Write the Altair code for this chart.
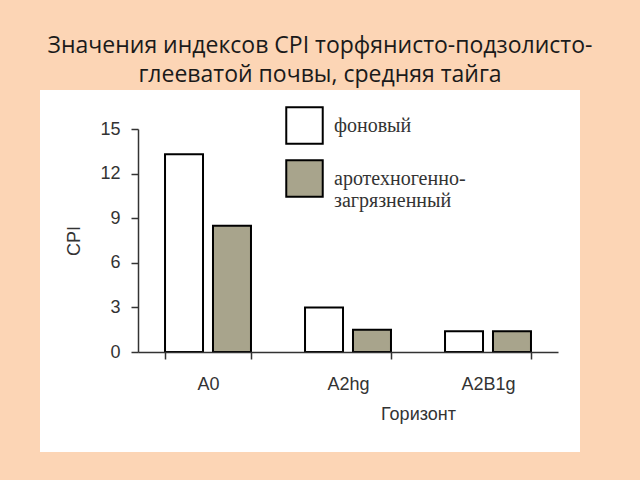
import altair as alt
import pandas as pd

horizons = ["A0", "A2hg", "A2B1g"]
series = ["фоновый", "аротехногенно-загрязненный"]
background_vals = [13.3, 3.0, 1.4]
polluted_vals = [8.5, 1.5, 1.4]
y_ticks = [0, 3, 6, 9, 12, 15]

rows = []
for h, a, b in zip(horizons, background_vals, polluted_vals):
    rows.append({"Горизонт": h, "series": series[0], "CPI": a})
    rows.append({"Горизонт": h, "series": series[1], "CPI": b})
df = pd.DataFrame(rows)

panel = alt.Chart(pd.DataFrame({"a": [0]})).mark_rect(color="white").encode(
    x=alt.value(-98), x2=alt.value(442), y=alt.value(-39), y2=alt.value(323)
)

bars = alt.Chart(df).mark_bar(stroke="black", strokeWidth=2).encode(
    x=alt.X("Горизонт:N", sort=horizons,
            scale=alt.Scale(paddingInner=0.386, paddingOuter=0.193),
            axis=alt.Axis(title="Горизонт", labelAngle=0, tickBand="extent",
                          tickSize=7, labelPadding=16, titlePadding=12,
                          titleX=280, titleAnchor="middle", zindex=2)),
    xOffset=alt.XOffset("series:N", sort=series,
                        scale=alt.Scale(paddingInner=0.208, paddingOuter=0)),
    y=alt.Y("CPI:Q", scale=alt.Scale(domain=[0, 15], nice=False),
            axis=alt.Axis(title="CPI", values=y_ticks, grid=False, tickSize=7,
                          labelPadding=11, titlePadding=16, zindex=2)),
    color=alt.Color("series:N", sort=series,
                    scale=alt.Scale(domain=series, range=["#FFFFFF", "#A8A48C"]),
                    legend=alt.Legend(title=None, orient="none", legendX=147, legendY=-23,
                                      symbolType="square", symbolSize=1330,
                                      symbolStrokeColor="black", symbolStrokeWidth=2,
                                      symbolOpacity=1,
                                      labelFont="Liberation Serif", labelFontSize=20,
                                      labelColor="#333333", labelOffset=10, rowPadding=8,
                                      labelLimit=300, zindex=2,
                                      labelExpr="datum.label == 'аротехногенно-загрязненный' ? ['аротехногенно-', 'загрязненный'] : datum.label")),
)

chart = alt.layer(panel, bars).properties(
    width=420, height=223,
    padding={"left": 138, "top": 129, "right": 82, "bottom": 128},
    autosize=alt.AutoSizeParams(type="none"),
    background="#FCD5B5",
    title=alt.TitleParams(
        text=["Значения индексов CPI торфянисто-подзолисто-", "глееватой почвы, средняя тайга"],
        font="Open Sans", fontSize=23, fontWeight="normal", color="#1a1a1a",
        lineHeight=29, anchor="middle", dx=-28, offset=3),
).configure_view(stroke=None).configure_axis(
    labelFont="Liberation Sans", titleFont="Liberation Sans",
    labelFontSize=18, titleFontSize=18, labelColor="#333333", titleColor="#333333",
    titleFontWeight="normal", domainColor="#333333", tickColor="#333333",
    domainWidth=1.5, tickWidth=1.5
)

chart.save("out.html", embed_options={"renderer": "svg", "actions": False})
